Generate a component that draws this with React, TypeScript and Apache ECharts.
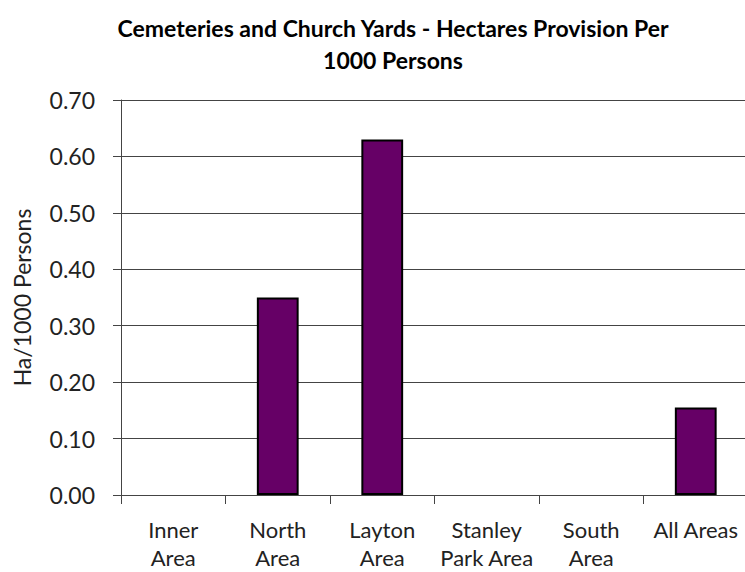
import React, { useEffect, useRef } from "react";
import * as echarts from "echarts";

const categories = ["Inner\nArea", "North\nArea", "Layton\nArea", "Stanley\nPark Area", "South\nArea", "All Areas"];
const values = [0, 0.35, 0.63, 0, 0, 0.155];
const titleLines = ["Cemeteries and Church Yards - Hectares Provision Per", "1000 Persons"];
const yAxisName = "Ha/1000 Persons";

export default function App() {
  const ref = useRef<HTMLDivElement>(null);
  useEffect(() => {
    if (!ref.current) return;
    const chart = echarts.init(ref.current, null, { renderer: "svg" });
    const font = "Lato, 'Open Sans', sans-serif";
    chart.setOption({
      animation: false,
      backgroundColor: "#ffffff",
      textStyle: { fontFamily: font },
      graphic: [
        {
          type: "text",
          x: 393,
          y: 28,
          style: {
            text: titleLines[0],
            textAlign: "center",
            textVerticalAlign: "middle",
            font: `bold 23px ${font}`,
            fill: "#000",
          },
        },
        {
          type: "text",
          x: 393,
          y: 60,
          style: {
            text: titleLines[1],
            textAlign: "center",
            textVerticalAlign: "middle",
            font: `bold 23px ${font}`,
            fill: "#000",
          },
        },
      ],
      grid: { left: 121, top: 100, width: 627, bottom: 77, outerBoundsMode: "none", containLabel: false },
      xAxis: {
        type: "category",
        data: categories,
        axisLine: { lineStyle: { color: "#444", width: 1 } },
        axisTick: { show: true, length: 9, lineStyle: { color: "#444" } },
        axisLabel: { color: "#222", fontSize: 22, lineHeight: 28, margin: 20, fontFamily: font, interval: 0 },
      },
      yAxis: {
        type: "value",
        min: 0,
        max: 0.7,
        interval: 0.1,
        name: yAxisName,
        nameLocation: "middle",
        nameRotate: 90,
        nameGap: 88,
        nameTextStyle: { fontSize: 23, color: "#222", fontFamily: font },
        axisLine: { show: true, lineStyle: { color: "#444", width: 1 } },
        axisTick: { show: true, length: 8, lineStyle: { color: "#444" } },
        axisLabel: {
          color: "#222",
          fontSize: 23,
          margin: 26,
          fontFamily: font,
          formatter: (v: number) => v.toFixed(2),
        },
        splitLine: { show: true, lineStyle: { color: "#444", width: 1 } },
      },
      series: [
        {
          type: "bar",
          data: values.map((v) => (v === 0 ? { value: v, itemStyle: { borderWidth: 0, opacity: 0 } } : v)),
          barWidth: "40%",
          itemStyle: { color: "#660066", borderColor: "#000", borderWidth: 2 },
        },
      ],
    });
    return () => chart.dispose();
  }, []);
  return <div ref={ref} style={{ position: "absolute", left: 0, top: 0, width: 745, height: 572 }} />;
}
